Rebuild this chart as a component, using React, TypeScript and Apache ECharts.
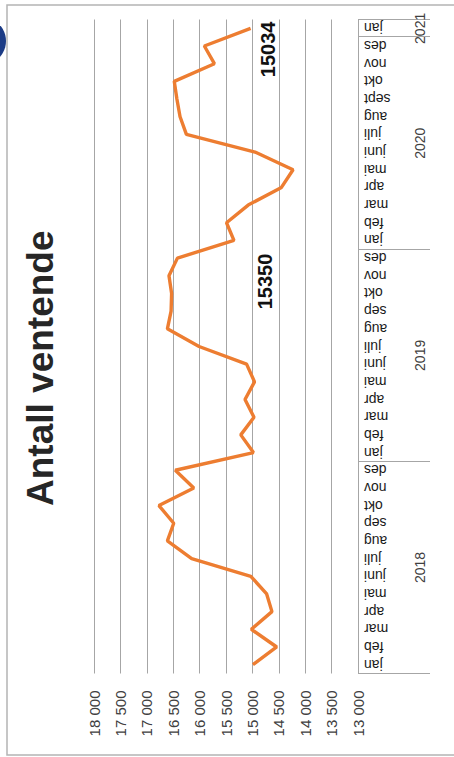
import React, { useEffect, useRef } from "react";
import * as echarts from "echarts";

// Month categories (Norwegian), jan 2018 .. jan 2021
const months2018 = ["jan", "feb", "mar", "apr", "mai", "juni", "juli", "aug", "sep", "okt", "nov", "des"];
const months2019 = ["jan", "feb", "mar", "apr", "mai", "juni", "juli", "aug", "sep", "okt", "nov", "des"];
const months2020 = ["jan", "feb", "mar", "apr", "mai", "juni", "juli", "aug", "sept", "okt", "nov", "des"];
const months2021 = ["jan"];

// Antall ventende per month
const values2018 = [14990, 14540, 15020, 14630, 14730, 15030, 16150, 16610, 16490, 16770, 16110, 16460];
const values2019 = [14980, 15220, 14970, 15140, 14960, 15110, 16010, 16610, 16540, 16530, 16580, 16420];
const values2020 = [15350, 15490, 15080, 14450, 14230, 14950, 16250, 16370, 16430, 16480, 15720, 15910];
const values2021 = [15034];

// Year group labels
const years = ["2018", "2019", "2020", "2021"];
const yearCenters = [5.5, 17.5, 29.5, 36];
const yearBounds = [-0.5, 11.5, 23.5, 35.5, 36.5];

// Value axis
const valueMin = 13000;
const valueMax = 18000;
const valueStep = 500;

// Points carrying a data label (index into full series)
const labelledIdx = [24, 36];

const categories = [...months2018, ...months2019, ...months2020, ...months2021];
const allValues = [...values2018, ...values2019, ...values2020, ...values2021];

const fmt = (v: number) => String(v).replace(/\B(?=(\d{3})+(?!\d))/g, " ");

export default function App() {
  const ref = useRef<HTMLDivElement>(null);
  useEffect(() => {
    if (!ref.current) return;
    const chart = echarts.init(ref.current, null, { renderer: "svg" });
    const labelOffsets: Record<number, number[]> = { 24: [-41, 16], 36: [-21, 2] };
    const data = allValues.map((v, i) =>
      labelledIdx.includes(i)
        ? {
            value: v,
            label: {
              show: true,
              position: "bottom",
              offset: labelOffsets[i],
              fontSize: 20,
              fontWeight: "bold",
              color: "#111",
              formatter: () => String(v),
            },
          }
        : v
    );
    chart.setOption({
      animation: false,
      backgroundColor: "#fff",
      textStyle: { fontFamily: "'Liberation Sans', Arial, sans-serif" },
      title: {
        text: "Antall ventende",
        left: 246,
        top: 17,
        textStyle: { fontSize: 37, fontWeight: "bold", color: "#262626" },
      },
      graphic: [
        {
          type: "rect",
          shape: { x: 2, y: 7, width: 750, height: 470 },
          style: { fill: "none", stroke: "#b4b4b4", lineWidth: 1.5 },
          silent: true,
        },
        {
          type: "circle",
          shape: { cx: 716, cy: -18, r: 24 },
          style: { fill: "#1c3c86" },
          silent: true,
        },
      ],
      grid: { left: 83.5, right: 19.5, top: 94, bottom: 96, containLabel: false },
      xAxis: [
        {
          type: "category",
          data: categories,
          boundaryGap: true,
          axisLine: { show: true, lineStyle: { color: "#a6a6a6", width: 1 } },
          axisTick: { show: false },
          axisLabel: { interval: 0, rotate: 90, margin: 6, fontSize: 14, color: "#1a1a1a" },
          splitLine: { show: false },
        },
        {
          type: "value",
          min: -0.5,
          max: 36.5,
          position: "bottom",
          axisLine: { show: false },
          splitLine: { show: false },
          axisTick: {
            show: true,
            customValues: yearBounds,
            length: 72,
            lineStyle: { color: "#a6a6a6", width: 1 },
          },
          axisLabel: {
            customValues: yearCenters,
            margin: 55,
            fontSize: 14,
            color: "#404040",
            formatter: (v: number) => {
              const k = yearCenters.findIndex((c) => Math.abs(c - v) < 0.01);
              return k >= 0 ? years[k] : "";
            },
          },
        },
      ],
      yAxis: {
        type: "value",
        min: valueMin,
        max: valueMax,
        interval: valueStep,
        axisLine: { show: false },
        axisTick: { show: false },
        splitLine: { show: true, lineStyle: { color: "#a6a6a6", width: 1 } },
        axisLabel: { margin: 17, fontSize: 15, color: "#404040", formatter: (v: number) => fmt(v) },
      },
      series: [
        {
          type: "line",
          xAxisIndex: 0,
          yAxisIndex: 0,
          data,
          symbol: "circle",
          symbolSize: 0,
          showSymbol: true,
          lineStyle: { color: "#ED7D31", width: 3.4 },
          itemStyle: { color: "#ED7D31" },
          label: { show: false },
        },
      ],
    });
    return () => chart.dispose();
  }, []);
  return (
    <div
      style={{
        position: "fixed",
        left: 0,
        top: 0,
        width: 454,
        height: 757,
        overflow: "hidden",
        background: "#fff",
      }}
    >
      <div
        ref={ref}
        style={{
          position: "absolute",
          left: 0,
          top: 0,
          width: 757,
          height: 454,
          transformOrigin: "0 0",
          transform: "translateY(757px) rotate(-90deg)",
        }}
      />
    </div>
  );
}
